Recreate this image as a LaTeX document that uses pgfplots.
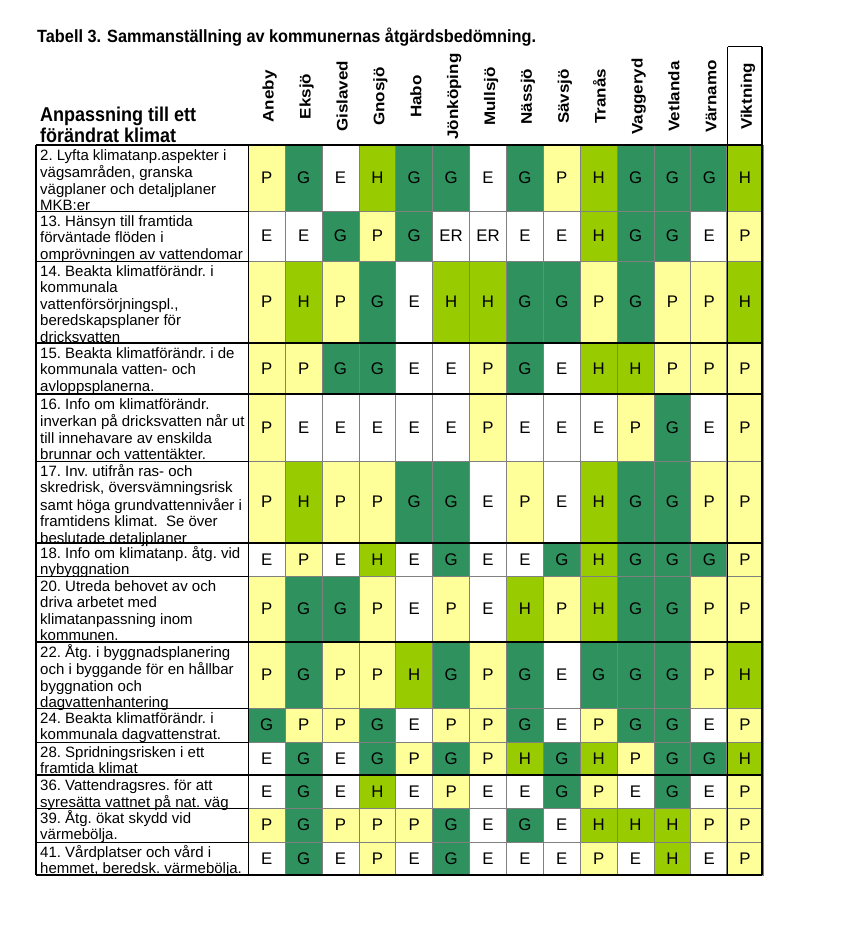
\documentclass[border=0pt]{standalone}
\usepackage{fontspec}
\setmainfont{Liberation Sans}
\newfontfamily\narrowfont[FakeStretch=0.92]{Liberation Sans}
\newfontfamily\hdrfont[FakeStretch=0.9]{Liberation Sans}
\usepackage{pgfplots}
\pgfplotsset{compat=1.18}
\definecolor{cellP}{HTML}{FFFF99}
\definecolor{cellH}{HTML}{99CC00}
\definecolor{cellG}{HTML}{2F915D}
\definecolor{cellE}{HTML}{FFFFFF}
\definecolor{cellER}{HTML}{FFFFFF}
\definecolor{cgrid}{HTML}{808080}
\pgfdeclareplotmark{cell}{%
  \pgfsetfillcolor{cell\cls}\pgfsetstrokecolor{cgrid}\pgfsetlinewidth{0.8pt}%
  \pgfpathrectangle{\pgfpoint{-18.44pt}{-\cellhh pt}}{\pgfpoint{36.88pt}{2*\cellhh pt}}%
  \pgfusepathqfillstroke}
\pgfplotsset{cellrow/.style 2 args={
  only marks, mark=cell, point meta=explicit symbolic,
  visualization depends on={#2/2 \as \cellhh},
  visualization depends on={value \thisrow{v} \as \cls},
  nodes near coords,
  every node near coord/.append style={anchor=center,text=black,inner sep=0pt,
    font=\fontsize{16.8}{16.8}\selectfont}}}
\newcommand\cellrow[3]{\addplot[cellrow={#1}{#2}] table[row sep=\\, meta=v,
   x expr={248.3+36.88*(\thisrow{c}+0.5)-1.3*(\thisrow{c}>12.5)}, y expr={#1}]
   {c v\\ #3};}
\newcommand\rl[2]{\node[anchor=base west,inner sep=0pt,font=\fontsize{15}{16.5}\selectfont\frenchspacing]
  at (axis cs:40,#1) {\begin{tabular}[t]{@{}l@{}}#2\end{tabular}};}
\newcommand\ch[2]{\node[rotate=90,anchor=base,inner sep=0pt,font=\bfseries\fontsize{17}{17}\selectfont]
  at (axis cs:{248.3+36.88*(#1+0.5)-1.3*(#1>12.5)+7},96.5) {\scalebox{1}[0.9]{#2}};}
\begin{document}
\begin{tikzpicture}
\begin{axis}[x=1pt, y=1pt, y dir=reverse, xmin=0, xmax=850, ymin=0, ymax=938,
  hide axis, clip=false, set layers]
\path (rel axis cs:0,0) rectangle (rel axis cs:1,1);
% cells: row center, row height, then column index and rating
\cellrow{178}{66}{0 P\\1 G\\2 E\\3 H\\4 G\\5 G\\6 E\\7 G\\8 P\\9 H\\10 G\\11 G\\12 G\\13 H\\}
\cellrow{236}{50}{0 E\\1 E\\2 G\\3 P\\4 G\\5 ER\\6 ER\\7 E\\8 E\\9 H\\10 G\\11 G\\12 E\\13 P\\}
\cellrow{302}{82}{0 P\\1 H\\2 P\\3 G\\4 E\\5 H\\6 H\\7 G\\8 G\\9 P\\10 G\\11 P\\12 P\\13 H\\}
\cellrow{368.5}{51}{0 P\\1 P\\2 G\\3 G\\4 E\\5 E\\6 P\\7 G\\8 E\\9 H\\10 H\\11 P\\12 P\\13 P\\}
\cellrow{427.5}{67}{0 P\\1 E\\2 E\\3 E\\4 E\\5 E\\6 P\\7 E\\8 E\\9 E\\10 P\\11 G\\12 E\\13 P\\}
\cellrow{502}{82}{0 P\\1 H\\2 P\\3 P\\4 G\\5 G\\6 E\\7 P\\8 E\\9 H\\10 G\\11 G\\12 P\\13 P\\}
\cellrow{559.5}{33}{0 E\\1 P\\2 E\\3 H\\4 E\\5 G\\6 E\\7 E\\8 G\\9 H\\10 G\\11 G\\12 G\\13 P\\}
\cellrow{609}{66}{0 P\\1 G\\2 G\\3 P\\4 E\\5 P\\6 E\\7 H\\8 P\\9 H\\10 G\\11 G\\12 P\\13 P\\}
\cellrow{675}{66}{0 P\\1 G\\2 P\\3 P\\4 H\\5 G\\6 P\\7 G\\8 E\\9 G\\10 G\\11 G\\12 P\\13 H\\}
\cellrow{725}{34}{0 G\\1 P\\2 P\\3 G\\4 E\\5 P\\6 P\\7 G\\8 E\\9 P\\10 G\\11 G\\12 E\\13 P\\}
\cellrow{758.5}{33}{0 E\\1 G\\2 E\\3 G\\4 P\\5 G\\6 P\\7 H\\8 G\\9 H\\10 P\\11 G\\12 G\\13 H\\}
\cellrow{791.5}{33}{0 E\\1 G\\2 E\\3 H\\4 E\\5 P\\6 E\\7 E\\8 G\\9 P\\10 E\\11 G\\12 E\\13 P\\}
\cellrow{825}{34}{0 P\\1 G\\2 P\\3 P\\4 P\\5 G\\6 E\\7 G\\8 E\\9 H\\10 H\\11 H\\12 P\\13 P\\}
\cellrow{858.5}{33}{0 E\\1 G\\2 E\\3 P\\4 E\\5 G\\6 E\\7 E\\8 E\\9 P\\10 E\\11 H\\12 E\\13 P\\}
\begin{pgfonlayer}{axis foreground}
\pgfplotsinvokeforeach{211,261,461,576,708,742,808,842}{
  \draw[black, line width=0.9pt] (axis cs:36,#1) -- (axis cs:248.3,#1);}
\pgfplotsinvokeforeach{145,343,394,543,642,775}{
  \draw[black, line width=1.5pt] (axis cs:36,#1) -- (axis cs:762,#1);}
\draw[black, line width=2pt] (axis cs:36,875) -- (axis cs:762,875);
\draw[black, line width=1.2pt] (axis cs:36,145) -- (axis cs:36,875);
\draw[black, line width=1.2pt] (axis cs:248.3,145) -- (axis cs:248.3,875);
\draw[black, line width=1.5pt] (axis cs:727.7,46.7) -- (axis cs:727.7,875);
\draw[black, line width=1.5pt] (axis cs:762,46.7) -- (axis cs:762,875);
\draw[black, line width=1.5pt] (axis cs:727.7,46.7) -- (axis cs:762,46.7);
\end{pgfonlayer}
% title and header
\node[anchor=base west,inner sep=0pt,font=\narrowfont\bfseries\fontsize{17.7}{17.7}\selectfont]
  at (axis cs:37,43) {Tabell 3. Sammanställning av kommunernas åtgärdsbedömning.};
\node[anchor=base west,inner sep=0pt,font=\hdrfont\bfseries\fontsize{20}{19.5}\selectfont]
  at (axis cs:40,122) {\begin{tabular}[t]{@{}l@{}}Anpassning till ett\\förändrat klimat\end{tabular}};
\ch{0}{Aneby}\ch{1}{Eksjö}\ch{2}{Gislaved}\ch{3}{Gnosjö}\ch{4}{Habo}\ch{5}{Jönköping}
\ch{6}{Mullsjö}\ch{7}{Nässjö}\ch{8}{Sävsjö}\ch{9}{Tranås}\ch{10}{Vaggeryd}\ch{11}{Vetlanda}
\ch{12}{Värnamo}\ch{13}{Viktning}
% row labels
\rl{160.5}{2. Lyfta klimatanp.aspekter i\\vägsamråden, granska\\vägplaner och detaljplaner\\MKB:er}
\rl{226.5}{13. Hänsyn till framtida\\förväntade flöden i\\omprövningen av vattendomar}
\rl{276.5}{14. Beakta klimatförändr. i\\kommunala\\vattenförsörjningspl.,\\beredskapsplaner för\\dricksvatten}
\rl{358.5}{15. Beakta klimatförändr. i de\\kommunala vatten- och\\avloppsplanerna.}
\rl{409.5}{16. Info om klimatförändr.\\inverkan på dricksvatten når ut\\till innehavare av enskilda\\brunnar och vattentäkter.}
\rl{476.5}{17. Inv. utifrån ras- och\\skredrisk, översvämningsrisk\\samt höga grundvattennivåer i\\framtidens klimat.\ \ Se över\\beslutade detaljplaner}
\rl{558.5}{18. Info om klimatanp. åtg. vid\\nybyggnation}
\rl{591.5}{20. Utreda behovet av och\\driva arbetet med\\klimatanpassning inom\\kommunen.}
\rl{657.5}{22. Åtg. i byggnadsplanering\\och i byggande för en hållbar\\byggnation och\\dagvattenhantering}
\rl{723.5}{24. Beakta klimatförändr. i\\kommunala dagvattenstrat.}
\rl{757.5}{28. Spridningsrisken i ett\\framtida klimat}
\rl{790.5}{36. Vattendragsres. för att\\syresätta vattnet på nat. väg}
\rl{823.5}{39. Åtg. ökat skydd vid\\värmebölja.}
\rl{857.5}{41. Vårdplatser och vård i\\hemmet, beredsk. värmebölja.}
\end{axis}
\end{tikzpicture}
\end{document}
